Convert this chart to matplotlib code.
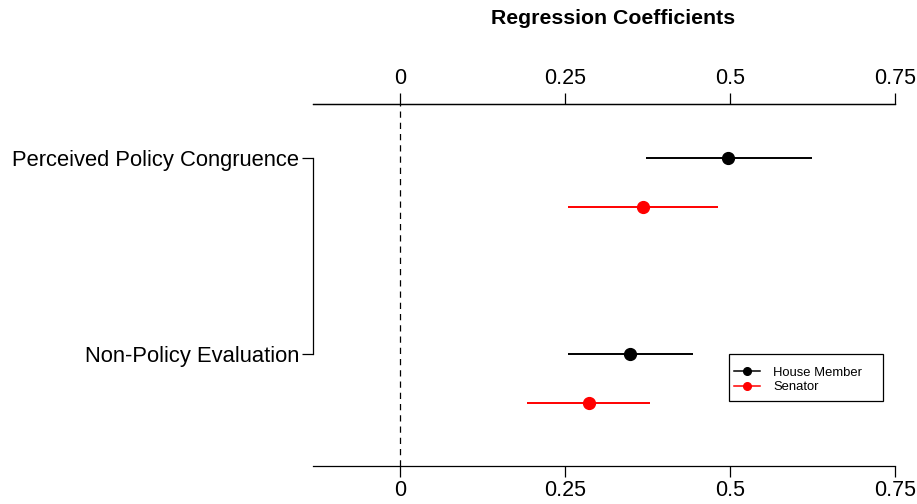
import matplotlib
matplotlib.use("Agg")
import numpy as np
import matplotlib.pyplot as plt
from matplotlib.lines import Line2D
from matplotlib.patches import Rectangle

plt.rcParams['font.family'] = ['Liberation Sans', 'DejaVu Sans']

# data
groups = ["Perceived Policy Congruence", "Non-Policy Evaluation"]
group_pos = [1, 0]
house_est = [0.497, 0.349]
house_lo = [0.372, 0.255]
house_hi = [0.624, 0.444]
senate_est = [0.368, 0.286]
senate_lo = [0.254, 0.193]
senate_hi = [0.482, 0.379]
xticks = [0, 0.25, 0.5, 0.75]
xticklabels = ["0", "0.25", "0.5", "0.75"]
senate_offset = -0.25

W, H = 917, 504
fig = plt.figure(figsize=(W / 100, H / 100), dpi=100)
ax = fig.add_axes([313 / W, 38 / H, 582 / W, 362 / H])

y_h = np.array(group_pos, dtype=float)
y_s = y_h + senate_offset

ax.hlines(y_h, house_lo, house_hi, color="black", lw=1.4)
ax.plot(house_est, y_h, "o", color="black", ms=8.5)
ax.hlines(y_s, senate_lo, senate_hi, color="red", lw=1.4)
ax.plot(senate_est, y_s, "o", color="red", ms=8.5)

ax.axvline(0, color="black", lw=0.9, ls=(0, (5, 4)))

ax.set_xlim(-0.132, 0.75)
ax.set_ylim(-0.571, 1.2755)

ax.spines["right"].set_visible(False)
ax.spines["left"].set_bounds(0, 1)
for s in ["left", "top", "bottom"]:
    ax.spines[s].set_linewidth(0.9)

ax.set_yticks(group_pos)
ax.set_yticklabels(groups, fontsize=15.8)
ax.tick_params(axis="y", length=8, width=0.9, pad=2)

ax.set_xticks(xticks)
ax.set_xticklabels(xticklabels, fontsize=15.5)
ax.tick_params(axis="x", direction="out", length=8, width=0.9, pad=2,
               top=False, bottom=True)

ax2 = ax.twiny()
ax2.set_xlim(ax.get_xlim())
ax2.set_xticks(xticks)
ax2.set_xticklabels(xticklabels, fontsize=15.5)
ax2.tick_params(axis="x", direction="out", length=8, width=0.9, pad=3)
for s in ["right", "left", "bottom"]:
    ax2.spines[s].set_visible(False)
ax2.spines["top"].set_linewidth(0.9)

fig.text(613 / W, 1 - 18 / H, "Regression Coefficients", ha="center",
         va="center", fontsize=15.3, fontweight="bold")

# legend box drawn separately, like R's wider legend frame
fig.patches.append(Rectangle((729 / W, 1 - 401 / H), 154 / W, 47 / H,
                             transform=fig.transFigure, fill=False,
                             edgecolor="black", lw=0.9))
handles = [
    Line2D([], [], color="black", lw=1.1, marker="o", ms=5.5),
    Line2D([], [], color="red", lw=1.1, marker="o", ms=5.5),
]
leg = fig.legend(handles, ["House Member", "Senator"], loc="center left",
                 bbox_to_anchor=(734 / W, 1 - 380 / H), borderaxespad=0,
                 fontsize=9.4, frameon=False, handlelength=2.0,
                 labelspacing=0.2, handletextpad=1.0, borderpad=0)

fig.savefig("out.png", dpi=100)
